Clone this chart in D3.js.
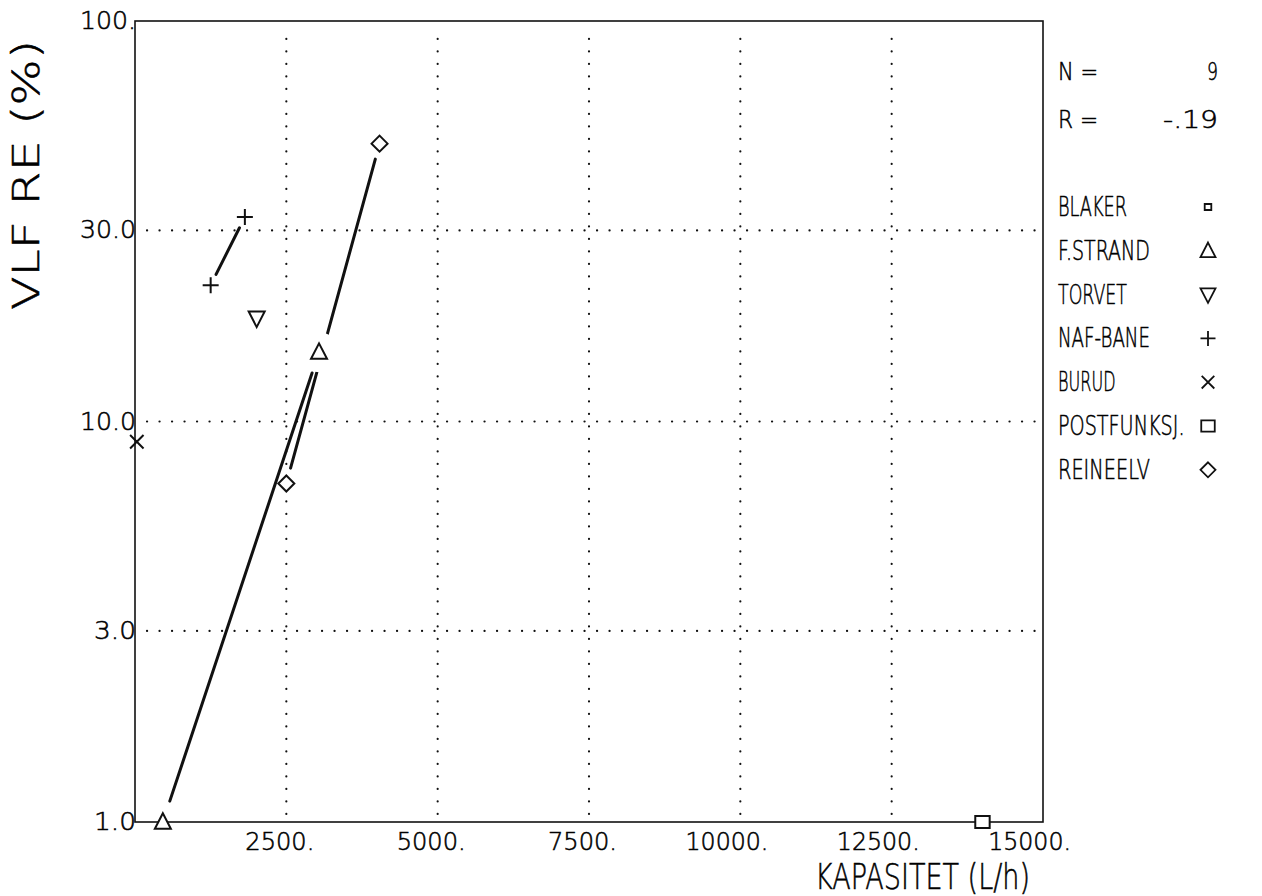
<!DOCTYPE html>
<html>
<head>
<meta charset="utf-8">
<script src="https://cdn.jsdelivr.net/npm/d3@7"></script>
<style>
  html, body { margin: 0; padding: 0; background: #fff; }
  svg { display: block; }
  text { font-family: "DejaVu Sans", "Liberation Sans", sans-serif; font-weight: 200; fill: #000; stroke: #000; stroke-width: 0.55; }
</style>
</head>
<body>
<svg id="chart" width="1262" height="896"></svg>
<script>
// Stations and their plot symbols
const stations = ["BLAKER", "F.STRAND", "TORVET", "NAF-BANE", "BURUD", "POSTFUNKSJ.", "REINEELV"];
const symbols  = ["dot", "triangleUp", "triangleDown", "plus", "cross", "square", "diamond"];

// Capacity (L/h) and VLF RE (%) per station
const blakerX    = [];           const blakerY    = [];
const fstrandX   = [460, 3040];  const fstrandY   = [1.0, 14.9];
const torvetX    = [2010];       const torvetY    = [18.1];
const nafbaneX   = [1250, 1815]; const nafbaneY   = [21.9, 32.4];
const burudX     = [30];         const burudY     = [8.9];
const postX      = [14000];      const postY      = [1.0];
const reineelvX  = [2500, 4040]; const reineelvY  = [7.0, 49.4];

const xSeries = [blakerX, fstrandX, torvetX, nafbaneX, burudX, postX, reineelvX];
const ySeries = [blakerY, fstrandY, torvetY, nafbaneY, burudY, postY, reineelvY];

// Axis ticks
const xTicks = [2500, 5000, 7500, 10000, 12500, 15000];
const xTickLabels = ["2500.", "5000.", "7500.", "10000.", "12500.", "15000."];
const yTicks = [1, 3, 10, 30, 100];
const yTickLabels = ["1.0", "3.0", "10.0", "30.0", "100."];

// Summary statistics
const statLabels = ["N =", "R ="];
const statValues = ["9", "-.19"];

const xTitle = "KAPASITET (L/h)";
const yTitle = "VLF RE (%)";

const svg = d3.select("#chart");
const L = 135, R = 1043, T = 21, B = 822;
const x = d3.scaleLinear().domain([0, 15000]).range([L, R]);
const y = d3.scaleLog().domain([1, 100]).range([B, T]);

// Plotter-style text stretched to a fixed width
function plotText(g, str, px, py, size, width, anchor) {
  return g.append("text")
    .attr("x", px).attr("y", py)
    .attr("font-size", size)
    .attr("textLength", width)
    .attr("lengthAdjust", "spacingAndGlyphs")
    .attr("text-anchor", anchor || "start")
    .text(str);
}

// Symbol outlines centred on (0,0)
function symbolPath(kind, s) {
  switch (kind) {
    case "triangleUp":   return `M0,${-s*0.55}L${s*0.5},${s*0.42}L${-s*0.5},${s*0.42}Z`;
    case "triangleDown": return `M0,${s*0.55}L${s*0.5},${-s*0.42}L${-s*0.5},${-s*0.42}Z`;
    case "plus":         return `M${-s/2},0H${s/2}M0,${-s/2}V${s/2}`;
    case "cross":        return `M${-s*0.42},${-s*0.42}L${s*0.42},${s*0.42}M${s*0.42},${-s*0.42}L${-s*0.42},${s*0.42}`;
    case "square":       return `M${-s*0.45},${-s*0.38}H${s*0.45}V${s*0.38}H${-s*0.45}Z`;
    case "diamond":      return `M0,${-s*0.5}L${s*0.5},0L0,${s*0.5}L${-s*0.5},0Z`;
    case "dot":          return `M${-s*0.22},${-s*0.2}H${s*0.22}V${s*0.2}H${-s*0.22}Z`;
  }
}
const symbolSize = 16;
// Line end trimming and knockout radius around each symbol kind
const trimBy = { triangleUp: 22, diamond: 16, plus: 12, triangleDown: 12, cross: 12, square: 12, dot: 8 };
const knockBy = { triangleUp: 20 };

// Grid
const grid = svg.append("g").attr("stroke", "#111").attr("stroke-width", 2.2)
  .attr("stroke-linecap", "round").attr("stroke-dasharray", "0.1,12.4");
xTicks.filter(v => v < 15000).forEach(v => {
  grid.append("line").attr("x1", x(v)).attr("x2", x(v)).attr("y1", B - 8).attr("y2", T + 6);
});
yTicks.filter(v => v > 1 && v < 100).forEach(v => {
  grid.append("line").attr("x1", L + 12).attr("x2", R - 4).attr("y1", y(v)).attr("y2", y(v));
});

// Frame
svg.append("rect").attr("x", L).attr("y", T).attr("width", R - L).attr("height", B - T)
  .attr("fill", "none").attr("stroke", "#111").attr("stroke-width", 1.6);

// Tick labels
const tickG = svg.append("g");
xTicks.forEach((v, i) => {
  const s = xTickLabels[i];
  plotText(tickG, s, x(v) + 28, B + 28, 24, 13.8 * s.length, "end");
});
yTicks.forEach((v, i) => {
  const s = yTickLabels[i];
  plotText(tickG, s, L + 1, y(v) + 8, 25, 14 * s.length, "end");
});

// Axis titles
const titleG = svg.append("g");
plotText(titleG, xTitle, 815, 889, 36, 215, "start");
const yt = titleG.append("g").attr("transform", "translate(39,310) rotate(-90)");
plotText(yt, yTitle, 0, 0, 37, 270, "start");

// Knockout mask for connecting lines
const defs = svg.append("defs");
const mask = defs.append("mask").attr("id", "knock").attr("maskUnits", "userSpaceOnUse")
  .attr("x", 0).attr("y", 0).attr("width", 1262).attr("height", 896);
mask.append("rect").attr("width", 1262).attr("height", 896).attr("fill", "#fff");
stations.forEach((st, i) => {
  const r = knockBy[symbols[i]];
  if (!r) return;
  xSeries[i].forEach((xv, j) => {
    mask.append("circle").attr("cx", x(xv)).attr("cy", y(ySeries[i][j])).attr("r", r).attr("fill", "#000");
  });
});

// Connecting lines between successive observations of a station
const lineG = svg.append("g").attr("mask", "url(#knock)")
  .attr("stroke", "#111").attr("stroke-width", 3).attr("stroke-linecap", "round");
stations.forEach((st, i) => {
  const xs = xSeries[i], ys = ySeries[i];
  const gap = trimBy[symbols[i]];
  for (let j = 1; j < xs.length; j++) {
    const x1 = x(xs[j - 1]), y1 = y(ys[j - 1]), x2 = x(xs[j]), y2 = y(ys[j]);
    const len = Math.hypot(x2 - x1, y2 - y1);
    const ux = (x2 - x1) / len, uy = (y2 - y1) / len;
    lineG.append("line")
      .attr("x1", x1 + ux * gap).attr("y1", y1 + uy * gap)
      .attr("x2", x2 - ux * gap).attr("y2", y2 - uy * gap);
  }
});

// Markers
const markG = svg.append("g").attr("fill", "#fff").attr("stroke", "#111").attr("stroke-width", 2);
stations.forEach((st, i) => {
  xSeries[i].forEach((xv, j) => {
    markG.append("path")
      .attr("transform", `translate(${x(xv)},${y(ySeries[i][j])})`)
      .attr("d", symbolPath(symbols[i], symbolSize));
  });
});

// Statistics block
const statG = svg.append("g");
statLabels.forEach((s, i) => {
  const yy = 80 + i * 48;
  plotText(statG, s, 1058, yy, 25, 40, "start");
  const v = statValues[i];
  plotText(statG, v, 1218, yy, 25, v.length > 1 ? 55 : 11, "end");
});

// Legend
const legG = svg.append("g");
stations.forEach((st, i) => {
  const yy = 206 + i * 43.8;
  plotText(legG, st, 1058, yy + 10, 27, 11.5 * st.length, "start");
  legG.append("path")
    .attr("transform", `translate(1208,${yy + 1})`)
    .attr("d", symbolPath(symbols[i], 15))
    .attr("fill", "#fff").attr("stroke", "#111").attr("stroke-width", 1.8);
});
</script>
</body>
</html>
